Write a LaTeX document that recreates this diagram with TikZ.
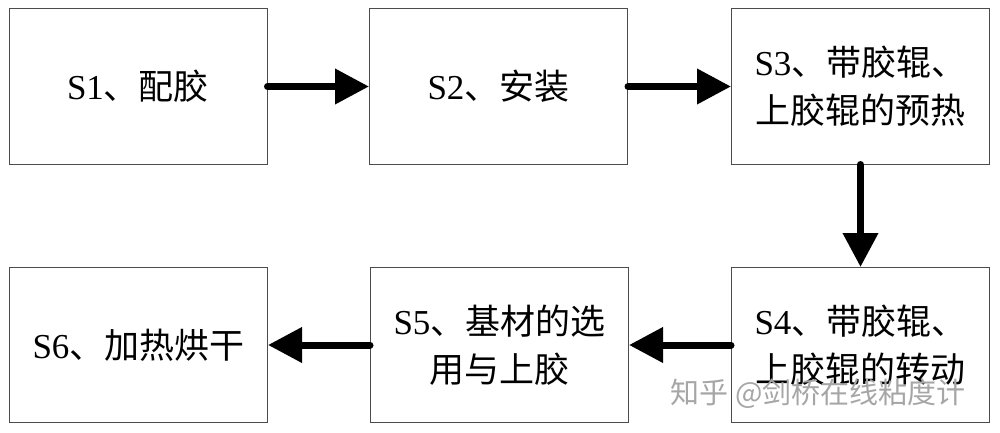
\documentclass[tikz,border=0pt]{standalone}
\usepackage{fontspec}
\setmainfont{Liberation Serif}
\newfontfamily\cjk{Noto Sans CJK SC}
\usetikzlibrary{arrows.meta}
\newcommand\zh[1]{{\cjk #1}}
\begin{document}
\begin{tikzpicture}[x=1pt,y=-1pt,
  stepbox/.style={draw=black!70,line width=1pt,minimum width=258pt,minimum height=155pt,
    align=center,inner sep=0pt,font=\fontsize{35pt}{48pt}\selectfont},
  flow/.style={line width=7pt,line cap=round,-{Triangle[length=34pt,width=34pt]}}]
\useasboundingbox (0,0) rectangle (1000,433);
\node[stepbox] (b1) at (138,86.5) {S1\zh{、配胶}};
\node[stepbox] (b2) at (498.5,86.5) {S2\zh{、安装}};
\node[stepbox] (b3) at (860.5,86.5) {S3\zh{、带胶辊、}\\\zh{上胶辊的预热}};
\node[stepbox] (b4) at (860.5,345) {S4\zh{、带胶辊、}\\\zh{上胶辊的转动}};
\node[stepbox] (b5) at (499.5,345) {S5\zh{、基材的选}\\\zh{用与上胶}};
\node[stepbox] (b6) at (138.5,345) {S6\zh{、加热烘干}};
\draw[flow] (b1) -- (b2);
\draw[flow] (b2) -- (b3);
\draw[flow] (b3) -- (b4);
\draw[flow] (b4) -- (b5);
\draw[flow] (b5) -- (b6);
\node[text=black!35,font=\cjk\fontsize{29pt}{30pt}\selectfont] (wm) at (818,394) {知乎 @剑桥在线粘度计};
\end{tikzpicture}
\end{document}
